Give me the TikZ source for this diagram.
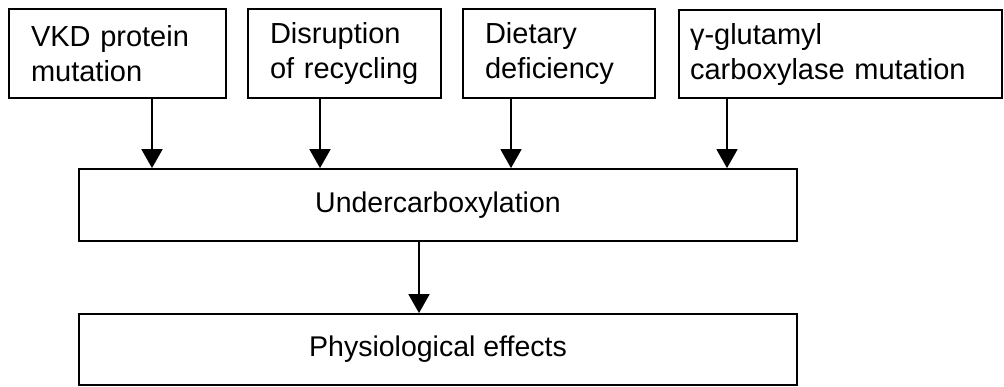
\documentclass[tikz,border=0pt]{standalone}
\usepackage{fontspec}
\setmainfont{Liberation Sans}
\usetikzlibrary{arrows.meta}
\begin{document}
\begin{tikzpicture}[x=1pt,y=-1pt,
  box/.style={draw=black,line width=1.8pt,rectangle,inner ysep=0pt,
    font=\fontsize{29}{35}\selectfont,align=left},
  cbox/.style={draw=black,line width=1.8pt,rectangle,inner sep=0pt,
    font=\fontsize{28.5}{35}\selectfont,align=center},
  arr/.style={line width=1.8pt,-{Triangle[width=21pt,length=19pt]}}]
\useasboundingbox (0,0) rectangle (1004,386);
\node[box,minimum width=217pt,minimum height=89pt,inner xsep=22pt,text width=173pt] (b1) at (117.5,53.5) {VKD protein\\mutation};
\node[box,minimum width=193pt,minimum height=89pt,inner xsep=22pt,text width=149pt] (b2) at (344.5,53.5) {Disruption\\of recycling};
\node[box,minimum width=192pt,minimum height=89pt,inner xsep=22pt,text width=148pt] (b3) at (559,53.5) {Dietary\\deficiency};
\node[box,minimum width=323pt,minimum height=88pt,inner xsep=11pt,text width=301pt] (b4) at (840.5,54) {γ-glutamyl\\carboxylase mutation};
\node[cbox,minimum width=718pt,minimum height=72pt] (u) at (438,205) {Undercarboxylation};
\node[cbox,minimum width=718pt,minimum height=71pt] (p) at (438,349.5) {Physiological effects};
\coordinate (c1) at (152,0);
\coordinate (c2) at (320,0);
\coordinate (c3) at (511,0);
\coordinate (c4) at (727,0);
\coordinate (c5) at (419,0);
\draw[arr] (b1.south -| c1) -- (u.north -| c1);
\draw[arr] (b2.south -| c2) -- (u.north -| c2);
\draw[arr] (b3.south -| c3) -- (u.north -| c3);
\draw[arr] (b4.south -| c4) -- (u.north -| c4);
\draw[arr] (u.south -| c5) -- (p.north -| c5);
\end{tikzpicture}
\end{document}
